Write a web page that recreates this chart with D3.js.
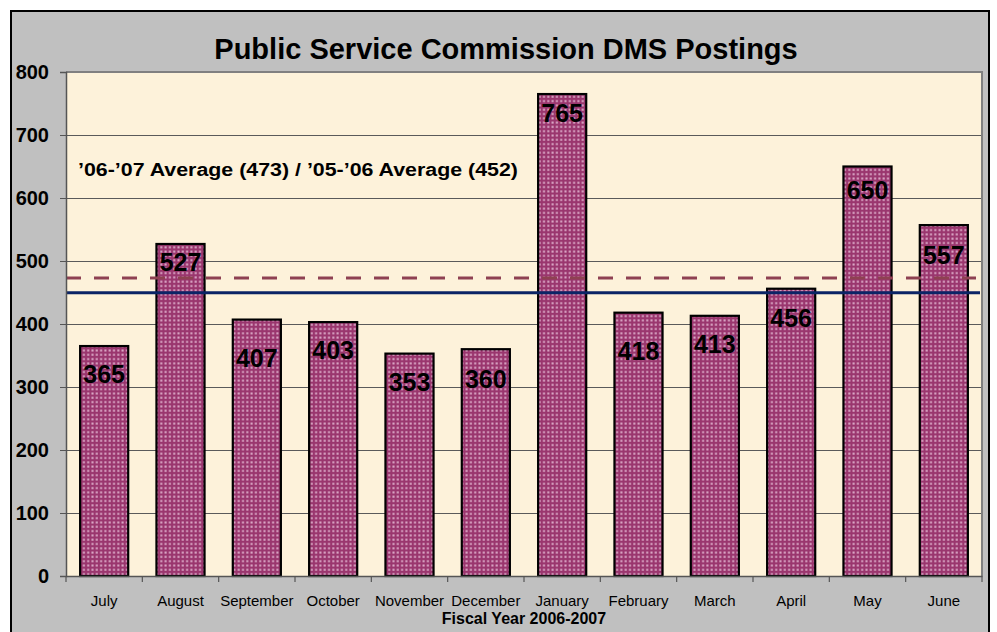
<!DOCTYPE html>
<html>
<head>
<meta charset="utf-8">
<script src="https://cdn.jsdelivr.net/npm/d3@7"></script>
<style>
  html, body { margin: 0; padding: 0; background: #ffffff; }
  svg { display: block; font-family: "Liberation Sans", Arial, sans-serif; }
  svg text { font-family: "Liberation Sans", Arial, sans-serif; }
</style>
</head>
<body>
<script>
// ---- data ----
const months = ["July","August","September","October","November","December","January","February","March","April","May","June"];
const postings = [365, 527, 407, 403, 353, 360, 765, 418, 413, 456, 650, 557];
const yTicks = [0, 100, 200, 300, 400, 500, 600, 700, 800];
const avgCurrent = 473;   // '06-'07
const avgPrevious = 452;  // '05-'06
const titleText = "Public Service Commission DMS Postings";
const xAxisTitle = "Fiscal Year 2006-2007";
const avgText = "\u201906-\u201907 Average (473) / \u201905-\u201906 Average (452)";

// ---- layout (pixels) ----
const W = 997, H = 632;
const FONT = "'Liberation Sans', Arial, sans-serif";
const plot = { left: 66, right: 982, top: 72, bottom: 576 };
const labelDrop = [28, 18, 38, 28, 28, 30, 19, 38, 28, 29, 23, 30];

const svg = d3.select("body").append("svg").attr("width", W).attr("height", H);

const defs = svg.append("defs");
const pat = defs.append("pattern").attr("id", "dots")
  .attr("patternUnits", "userSpaceOnUse").attr("width", 4.3).attr("height", 4.3);
pat.append("rect").attr("width", 4.3).attr("height", 4.3).attr("fill", "#9a366e");
pat.append("rect").attr("x", 1.2).attr("y", 1.2).attr("width", 2).attr("height", 2).attr("fill", "#dcaac8");

// chart area background
svg.append("rect").attr("x", 11).attr("y", 11).attr("width", 978).attr("height", 640)
  .attr("fill", "#c0c0c0").attr("stroke", "#000").attr("stroke-width", 2);

// plot area
svg.append("rect").attr("x", plot.left).attr("y", plot.top)
  .attr("width", plot.right - plot.left).attr("height", plot.bottom - plot.top)
  .attr("fill", "#fdf2da");

const x = d3.scaleBand().domain(months).range([plot.left, plot.right])
  .paddingInner(0.37).paddingOuter(0.185);
const y = d3.scaleLinear().domain([0, 800]).range([plot.bottom, plot.top]);

// gridlines
svg.append("g").selectAll("line").data(yTicks.filter(d => d > 0 && d < 800)).join("line")
  .attr("x1", plot.left).attr("x2", plot.right)
  .attr("y1", d => y(d) + 0.5).attr("y2", d => y(d) + 0.5)
  .attr("stroke", "#5a5a5a").attr("stroke-width", 1);

// plot border top/right
svg.append("path")
  .attr("d", `M${plot.left},${plot.top} H${plot.right} V${plot.bottom}`)
  .attr("fill", "none").attr("stroke", "#808080").attr("stroke-width", 2);

// bars
svg.append("g").selectAll("rect").data(postings).join("rect")
  .attr("x", (d, i) => x(months[i]))
  .attr("y", d => y(d))
  .attr("width", x.bandwidth())
  .attr("height", d => y(0) - y(d))
  .attr("fill", "url(#dots)")
  .attr("stroke", "#000").attr("stroke-width", 2.2);

// average lines
svg.append("line")
  .attr("x1", plot.left).attr("x2", plot.right - 6)
  .attr("y1", y(avgCurrent)).attr("y2", y(avgCurrent))
  .attr("stroke", "#8e4152").attr("stroke-width", 3)
  .attr("stroke-dasharray", "15,13");
svg.append("line")
  .attr("x1", plot.left).attr("x2", plot.right - 2)
  .attr("y1", y(avgPrevious) + 1.5).attr("y2", y(avgPrevious) + 1.5)
  .attr("stroke", "#0b2466").attr("stroke-width", 3);

// value labels
svg.append("g").selectAll("text").data(postings).join("text")
  .attr("x", (d, i) => x(months[i]) + x.bandwidth() / 2)
  .attr("y", (d, i) => y(d) + labelDrop[i])
  .attr("dy", "0.36em")
  .attr("text-anchor", "middle")
  .attr("font-family", FONT)
  .attr("font-size", 25).attr("font-weight", "bold").attr("fill", "#000")
  .text(d => d);

// y axis
const yAxis = d3.axisLeft(y).tickValues(yTicks).tickSize(6).tickPadding(11).tickFormat(d3.format("d"));
const yg = svg.append("g").attr("transform", `translate(${plot.left},0)`).call(yAxis);
yg.attr("font-family", FONT);
yg.select(".domain").attr("stroke", "#555").attr("stroke-width", 1.5);
yg.selectAll(".tick line").attr("stroke", "#555");
yg.selectAll(".tick text").attr("font-size", 20).attr("font-weight", "bold")
  .attr("fill", "#000").attr("font-family", FONT);

// x axis
const xAxis = d3.axisBottom(x).tickSize(0).tickPadding(19);
const xg = svg.append("g").attr("transform", `translate(0,${plot.bottom})`).call(xAxis);
xg.attr("font-family", FONT);
xg.select(".domain").attr("stroke", "#555").attr("stroke-width", 1.5);
xg.selectAll(".tick text").attr("font-size", 15).attr("fill", "#000")
  .attr("font-family", FONT);
// band boundary ticks
const step = x.step();
svg.append("g").selectAll("line").data(d3.range(months.length + 1)).join("line")
  .attr("x1", i => plot.left + i * step).attr("x2", i => plot.left + i * step)
  .attr("y1", plot.bottom).attr("y2", plot.bottom + 6)
  .attr("stroke", "#555").attr("stroke-width", 1.2);

// titles
svg.append("text").attr("x", 506).attr("y", 59).attr("text-anchor", "middle")
  .attr("font-family", FONT)
  .attr("font-size", 29).attr("font-weight", "bold").attr("fill", "#000")
  .text(titleText);
svg.append("text").attr("x", (plot.left + plot.right) / 2).attr("y", 624).attr("text-anchor", "middle")
  .attr("font-family", FONT)
  .attr("font-size", 16).attr("font-weight", "bold").attr("fill", "#000")
  .text(xAxisTitle);
svg.append("text").attr("x", 78).attr("y", 176)
  .attr("font-family", FONT)
  .attr("font-size", 18).attr("font-weight", "bold").attr("fill", "#000")
  .attr("textLength", 440).attr("lengthAdjust", "spacingAndGlyphs")
  .text(avgText);
</script>
</body>
</html>
